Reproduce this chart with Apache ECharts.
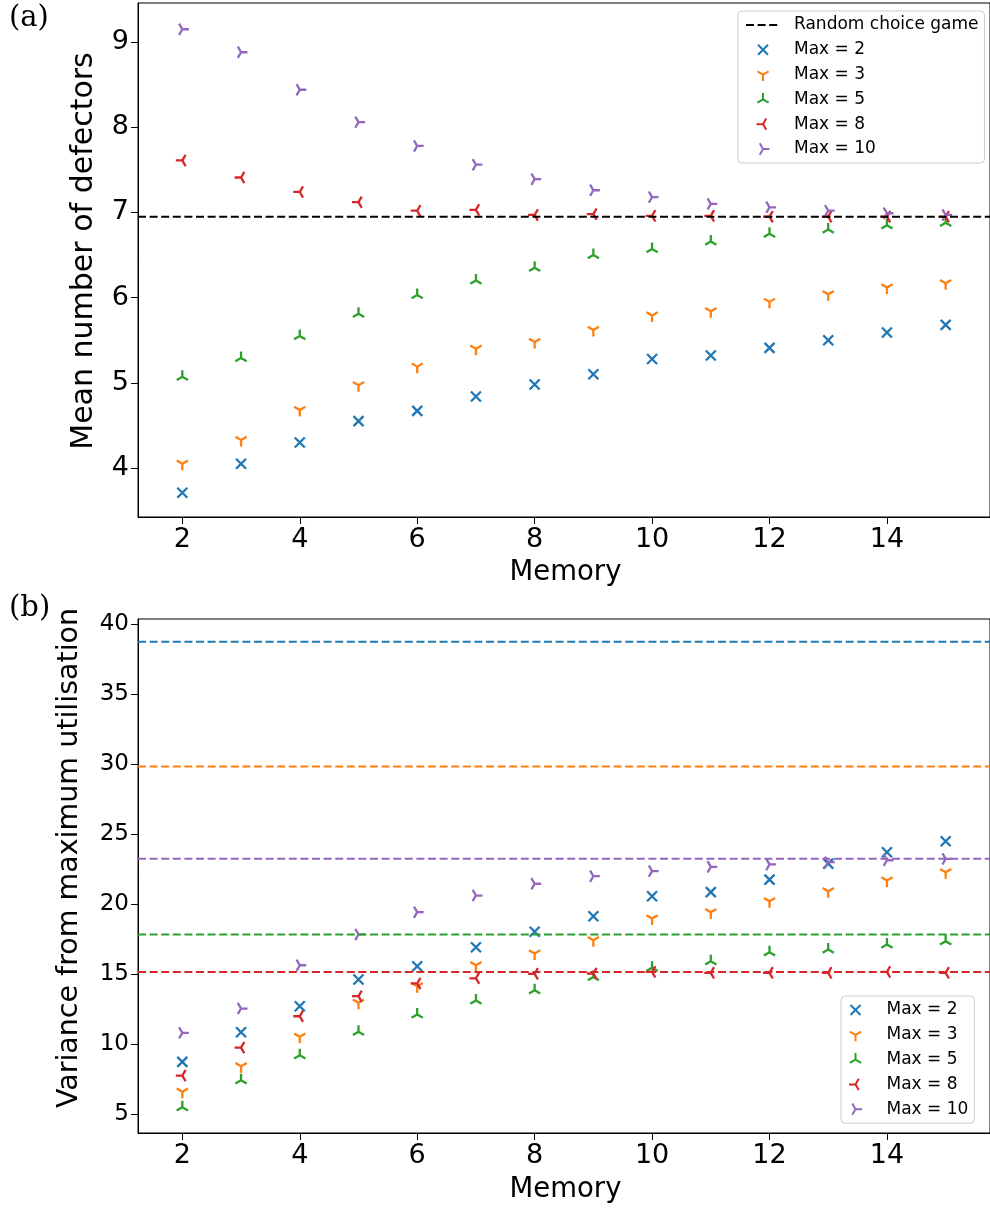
<!DOCTYPE html>
<html><head><meta charset="utf-8">
<script src="https://cdn.jsdelivr.net/npm/echarts@6/dist/echarts.min.js"></script>
<style>html,body{margin:0;padding:0;background:#fff}#c{width:990px;height:1208px}</style>
</head><body><div id="c"></div>
<script>
// ---------- data ----------
const memory = [2, 3, 4, 5, 6, 7, 8, 9, 10, 11, 12, 13, 14, 15];
const seriesNames = ['Max = 2', 'Max = 3', 'Max = 5', 'Max = 8', 'Max = 10'];
const randomName = 'Random choice game';

// (a) mean number of defectors
const defectMax2  = [3.71, 4.05, 4.30, 4.55, 4.67, 4.84, 4.98, 5.10, 5.28, 5.32, 5.41, 5.50, 5.59, 5.68];
const defectMax3  = [4.05, 4.33, 4.68, 4.97, 5.19, 5.40, 5.48, 5.62, 5.79, 5.84, 5.95, 6.04, 6.12, 6.17];
const defectMax5  = [5.07, 5.29, 5.55, 5.81, 6.03, 6.20, 6.35, 6.50, 6.57, 6.66, 6.75, 6.80, 6.85, 6.88];
const defectMax8  = [7.61, 7.41, 7.24, 7.12, 7.02, 7.03, 6.97, 6.98, 6.96, 6.96, 6.95, 6.95, 6.95, 6.95];
const defectMax10 = [9.15, 8.88, 8.44, 8.06, 7.78, 7.56, 7.39, 7.26, 7.18, 7.10, 7.06, 7.02, 6.99, 6.97];
const randomChoiceGame = 6.95;

// (b) variance from maximum utilisation
const varMax2  = [8.74, 10.86, 12.71, 14.62, 15.57, 16.93, 18.03, 19.14, 20.57, 20.86, 21.76, 22.90, 23.71, 24.50];
const varMax3  = [6.60, 8.43, 10.53, 12.96, 14.14, 15.64, 16.48, 17.43, 18.98, 19.43, 20.21, 20.93, 21.69, 22.29];
const varMax5  = [5.50, 7.43, 9.21, 10.89, 12.12, 13.12, 13.86, 14.81, 15.46, 15.93, 16.57, 16.76, 17.12, 17.36];
const varMax8  = [7.76, 9.76, 12.00, 13.43, 14.34, 14.71, 15.03, 15.05, 15.17, 15.10, 15.10, 15.10, 15.17, 15.10];
const varMax10 = [10.81, 12.55, 15.64, 17.84, 19.43, 20.62, 21.46, 22.00, 22.36, 22.67, 22.84, 23.00, 23.14, 23.24];
// random-game reference level for each Max (dashed lines), order Max=2,3,5,8,10
const varRandom = [38.75, 29.84, 17.84, 15.15, 23.24];

// tick labels
const xTicks = [2, 4, 6, 8, 10, 12, 14];
const yTicksTop = [4, 5, 6, 7, 8, 9];
const yTicksBottom = [5, 10, 15, 20, 25, 30, 35, 40];

// ---------- style ----------
const COLORS = ['#1f77b4', '#ff7f0e', '#2ca02c', '#d62728', '#9467bd'];
const SYM = [
  'path://M-6.5 -6.5M6.5 6.5M-5 -5L5 5M-5 5L5 -5',                      // x
  'path://M-6.5 -6.5M6.5 6.5M0 0L0 6.5M0 0L-5.63 -3.25M0 0L5.63 -3.25', // tri_down
  'path://M-6.5 -6.5M6.5 6.5M0 0L0 -6.5M0 0L-5.63 3.25M0 0L5.63 3.25',  // tri_up
  'path://M-6.5 -6.5M6.5 6.5M0 0L-6.5 0M0 0L3.25 -5.63M0 0L3.25 5.63',  // tri_left
  'path://M-6.5 -6.5M6.5 6.5M0 0L6.5 0M0 0L-3.25 -5.63M0 0L-3.25 5.63'  // tri_right
];
const FONT = 'DejaVu Sans';
const XMIN = 1.245, XMAX = 15.755;
const DASH = [8, 3.6];
const MSIZE = 13;

const topData = [defectMax2, defectMax3, defectMax5, defectMax8, defectMax10];
const botData = [varMax2, varMax3, varMax5, varMax8, varMax10];

function xAxis(gi) {
  return {
    type: 'value', gridIndex: gi, min: XMIN, max: XMAX,
    axisLine: { show: true, onZero: false, lineStyle: { color: '#000', width: 1 } },
    axisTick: { show: true, length: 7, lineStyle: { color: '#000', width: 1 }, customValues: xTicks },
    axisLabel: { fontFamily: FONT, fontSize: 27, color: '#000', margin: 9, customValues: xTicks },
    splitLine: { show: false }
  };
}
function yAxis(gi, min, max, ticks, fs) {
  return {
    type: 'value', gridIndex: gi, min: min, max: max,
    axisLine: { show: true, onZero: false, lineStyle: { color: '#000', width: 1 } },
    axisTick: { show: true, length: 7, lineStyle: { color: '#000', width: 1 }, customValues: ticks },
    axisLabel: { fontFamily: FONT, fontSize: fs, color: '#000', margin: 9, customValues: ticks },
    splitLine: { show: false }
  };
}

const series = [];
series.push({
  type: 'line', name: randomName, xAxisIndex: 0, yAxisIndex: 0,
  data: [[XMIN, randomChoiceGame], [XMAX, randomChoiceGame]],
  symbol: 'none', silent: true,
  lineStyle: { color: '#000', width: 2, type: DASH },
  itemStyle: { color: 'rgba(0,0,0,0)', borderWidth: 0 }
});
topData.forEach((arr, k) => {
  series.push({
    type: 'scatter', name: seriesNames[k], xAxisIndex: 0, yAxisIndex: 0,
    data: memory.map((m, i) => [m, arr[i]]),
    symbol: SYM[k], symbolSize: MSIZE,
    itemStyle: { color: COLORS[k], borderColor: COLORS[k], borderWidth: 2.3, opacity: 1 },
    emphasis: { disabled: true }
  });
});
varRandom.forEach((v, k) => {
  series.push({
    type: 'line', name: 'random ' + seriesNames[k], xAxisIndex: 1, yAxisIndex: 1,
    data: [[XMIN, v], [XMAX, v]], symbol: 'none', silent: true,
    lineStyle: { color: COLORS[k], width: 2, type: DASH }
  });
});
botData.forEach((arr, k) => {
  series.push({
    type: 'scatter', name: seriesNames[k], xAxisIndex: 1, yAxisIndex: 1,
    data: memory.map((m, i) => [m, arr[i]]),
    symbol: SYM[k], symbolSize: MSIZE,
    itemStyle: { color: COLORS[k], borderColor: COLORS[k], borderWidth: 2.3, opacity: 1 },
    emphasis: { disabled: true }
  });
});

const legendCommon = {
  orient: 'vertical', itemWidth: 34, itemHeight: 13, itemGap: 7.8,
  padding: [5.5, 6, 5.5, 7],
  backgroundColor: 'rgba(255,255,255,0.8)', borderColor: '#cccccc', borderWidth: 1, borderRadius: 4,
  textStyle: { fontFamily: FONT, fontSize: 17, color: '#000', lineHeight: 17, padding: [0, 0, 0, 9] },
  itemStyle: { borderWidth: 2 },
  selectedMode: false
};

const option = {
  animation: false,
  backgroundColor: '#fff',
  grid: [
    { left: 138, top: 3, width: 855, height: 514, show: true, borderColor: '#000', borderWidth: 1, backgroundColor: 'transparent' },
    { left: 138, top: 619, width: 855, height: 514, show: true, borderColor: '#000', borderWidth: 1, backgroundColor: 'transparent' }
  ],
  xAxis: [xAxis(0), xAxis(1)],
  yAxis: [yAxis(0, 3.425, 9.458, yTicksTop, 27), yAxis(1, 3.66, 40.37, yTicksBottom, 23)],
  legend: [
    Object.assign({}, legendCommon, { left: 738, top: 11,
      data: [{ name: randomName, itemStyle: { opacity: 0 } }].concat(seriesNames) }),
    Object.assign({}, legendCommon, { left: 841, top: 996, data: seriesNames.slice() })
  ],
  graphic: [
    { type: 'text', x: 9, y: 18, style: { text: '(a)', font: '29px "DejaVu Serif"', fill: '#000', align: 'left', verticalAlign: 'middle' } },
    { type: 'text', x: 9, y: 608, style: { text: '(b)', font: '29px "DejaVu Serif"', fill: '#000', align: 'left', verticalAlign: 'middle' } },
    { type: 'text', x: 84, y: 251, rotation: Math.PI / 2, style: { text: 'Mean number of defectors', font: '30px "DejaVu Sans"', fill: '#000', align: 'center', verticalAlign: 'middle' } },
    { type: 'text', x: 69.5, y: 858, rotation: Math.PI / 2, style: { text: 'Variance from maximum utilisation', font: '28.5px "DejaVu Sans"', fill: '#000', align: 'center', verticalAlign: 'middle' } },
    { type: 'text', x: 565.5, y: 573, style: { text: 'Memory', font: '27.5px "DejaVu Sans"', fill: '#000', align: 'center', verticalAlign: 'middle' } },
    { type: 'text', x: 565.5, y: 1189.5, style: { text: 'Memory', font: '27.5px "DejaVu Sans"', fill: '#000', align: 'center', verticalAlign: 'middle' } }
  ],
  series: series
};

const chart = echarts.init(document.getElementById('c'), null, { renderer: 'canvas' });
chart.setOption(option);
</script>
</body></html>
